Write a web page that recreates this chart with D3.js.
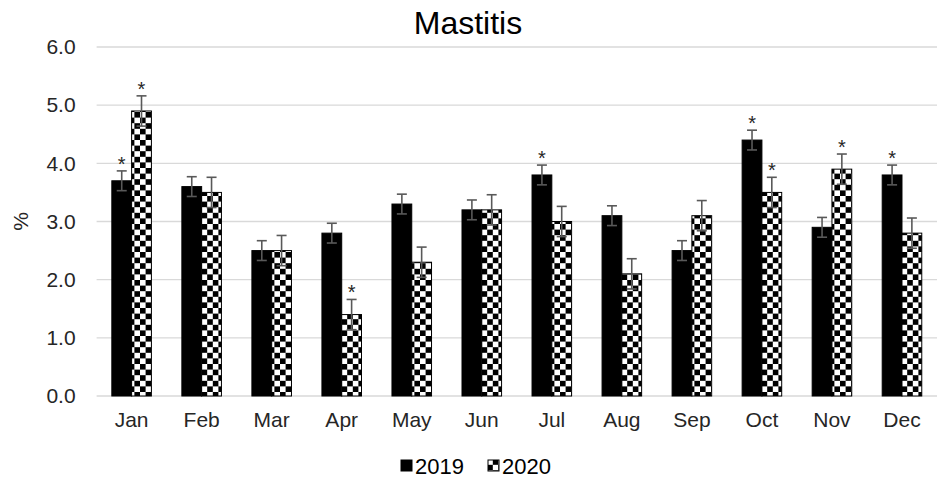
<!DOCTYPE html>
<html>
<head>
<meta charset="utf-8">
<script src="https://cdn.jsdelivr.net/npm/d3@7"></script>
<style>
  html, body { margin: 0; padding: 0; background: #fff; }
  svg { display: block; font-family: "Liberation Sans", Arial, sans-serif; }
</style>
</head>
<body>
<svg id="chart" width="946" height="480"></svg>
<script>
// Monthly mastitis incidence (%) with error bars and significance marks
const months = ["Jan","Feb","Mar","Apr","May","Jun","Jul","Aug","Sep","Oct","Nov","Dec"];
const years = ["2019", "2020"];
const values2019 = [3.7, 3.6, 2.5, 2.8, 3.3, 3.2, 3.8, 3.1, 2.5, 4.4, 2.9, 3.8];
const values2020 = [4.9, 3.5, 2.5, 1.4, 2.3, 3.2, 3.0, 2.1, 3.1, 3.5, 3.9, 2.8];
const errors2019 = [0.17, 0.17, 0.17, 0.17, 0.17, 0.17, 0.17, 0.17, 0.17, 0.17, 0.17, 0.17];
const errors2020 = [0.26, 0.26, 0.26, 0.26, 0.26, 0.26, 0.26, 0.26, 0.26, 0.26, 0.26, 0.26];
const signif2019 = [true, false, false, false, false, false, true, false, false, true, false, true];
const signif2020 = [true, false, false, true, false, false, false, false, false, true, true, false];
const yTicks = [0, 1, 2, 3, 4, 5, 6];

const svg = d3.select("#chart");
const margin = { left: 96.6, right: 9, top: 47, bottom: 84 };
const W = 946, H = 480;
const labelSize = 21;

const x0 = d3.scaleBand().domain(months)
  .range([margin.left, W - margin.right])
  .paddingInner(0.435).paddingOuter(0.2175);
const x1 = d3.scaleBand().domain(years).range([0, x0.bandwidth()]);
const y = d3.scaleLinear().domain([0, 6]).range([H - margin.bottom, margin.top]);

// checkerboard fill for the 2020 series
const defs = svg.append("defs");
const cell = 5.6;
const pat = defs.append("pattern").attr("id", "checker")
  .attr("patternUnits", "userSpaceOnUse")
  .attr("width", cell * 2).attr("height", cell * 2);
pat.append("rect").attr("width", cell * 2).attr("height", cell * 2).attr("fill", "#fff");
pat.append("rect").attr("width", cell).attr("height", cell).attr("fill", "#000");
pat.append("rect").attr("x", cell).attr("y", cell).attr("width", cell).attr("height", cell).attr("fill", "#000");

// gridlines
svg.append("g").selectAll("line").data(yTicks).join("line")
  .attr("x1", margin.left).attr("x2", W - margin.right)
  .attr("y1", d => y(d)).attr("y2", d => y(d))
  .attr("stroke", "#d9d9d9").attr("stroke-width", 1.3);

// y axis labels
const yAxis = d3.axisLeft(y).tickValues(yTicks).tickFormat(d3.format(".1f")).tickSize(0).tickPadding(21);
const ya = svg.append("g").attr("transform", `translate(${margin.left},0)`).call(yAxis);
ya.select(".domain").remove();
ya.selectAll("text").attr("font-size", labelSize).attr("fill", "#262626")
  .attr("font-family", "Liberation Sans, Arial, sans-serif");

// x axis labels
const xAxis = d3.axisBottom(x0).tickSize(0).tickPadding(16);
const xa = svg.append("g").attr("transform", `translate(0,${y(0)})`).call(xAxis);
xa.select(".domain").remove();
xa.selectAll("text").attr("font-size", labelSize).attr("fill", "#262626")
  .attr("font-family", "Liberation Sans, Arial, sans-serif");

// y axis title
svg.append("text").attr("transform", `translate(28,${y(3)}) rotate(-90)`)
  .attr("text-anchor", "middle").attr("font-size", labelSize).attr("fill", "#262626").text("%");

// chart title
svg.append("text").attr("x", 468).attr("y", 34).attr("text-anchor", "middle")
  .attr("font-size", 32).attr("fill", "#000").text("Mastitis");

const rows = months.map((m, i) => [
  { month: m, year: "2019", v: values2019[i], e: errors2019[i], s: signif2019[i] },
  { month: m, year: "2020", v: values2020[i], e: errors2020[i], s: signif2020[i] }
]).flat();

const fillOf = d => d.year === "2019" ? "#000" : "url(#checker)";
const bx = d => x0(d.month) + x1(d.year);
const bw = x1.bandwidth();

// bars
svg.append("g").selectAll("rect").data(rows).join("rect")
  .attr("x", bx).attr("width", bw)
  .attr("y", d => y(d.v)).attr("height", d => y(0) - y(d.v))
  .attr("fill", fillOf).attr("stroke", "#000").attr("stroke-width", 1);

// error bars
const eb = svg.append("g").attr("stroke", "#595959").attr("stroke-width", 1.6);
const cap = 5;
eb.selectAll("line.v").data(rows).join("line").attr("class", "v")
  .attr("x1", d => bx(d) + bw / 2).attr("x2", d => bx(d) + bw / 2)
  .attr("y1", d => y(d.v + d.e)).attr("y2", d => y(d.v - d.e));
eb.selectAll("line.t").data(rows).join("line").attr("class", "t")
  .attr("x1", d => bx(d) + bw / 2 - cap).attr("x2", d => bx(d) + bw / 2 + cap)
  .attr("y1", d => y(d.v + d.e)).attr("y2", d => y(d.v + d.e));
eb.selectAll("line.b").data(rows).join("line").attr("class", "b")
  .attr("x1", d => bx(d) + bw / 2 - cap).attr("x2", d => bx(d) + bw / 2 + cap)
  .attr("y1", d => y(d.v - d.e)).attr("y2", d => y(d.v - d.e));

// significance asterisks
svg.append("g").selectAll("text").data(rows.filter(d => d.s)).join("text")
  .attr("x", d => bx(d) + bw / 2).attr("y", d => y(d.v + d.e))
  .attr("text-anchor", "middle").attr("font-size", 20).attr("fill", "#262626").text("*");

// legend
const legendItems = [
  { label: "2019", fill: "#000", x: 401 },
  { label: "2020", fill: "url(#checker)", x: 488 }
];
const lg = svg.append("g");
legendItems.forEach(it => {
  lg.append("rect").attr("x", it.x).attr("y", 460).attr("width", 11).attr("height", 11)
    .attr("fill", it.fill).attr("stroke", "#000").attr("stroke-width", 1);
  lg.append("text").attr("x", it.x + 14).attr("y", 474).attr("font-size", 22)
    .attr("fill", "#000").text(it.label);
});
</script>
</body>
</html>
